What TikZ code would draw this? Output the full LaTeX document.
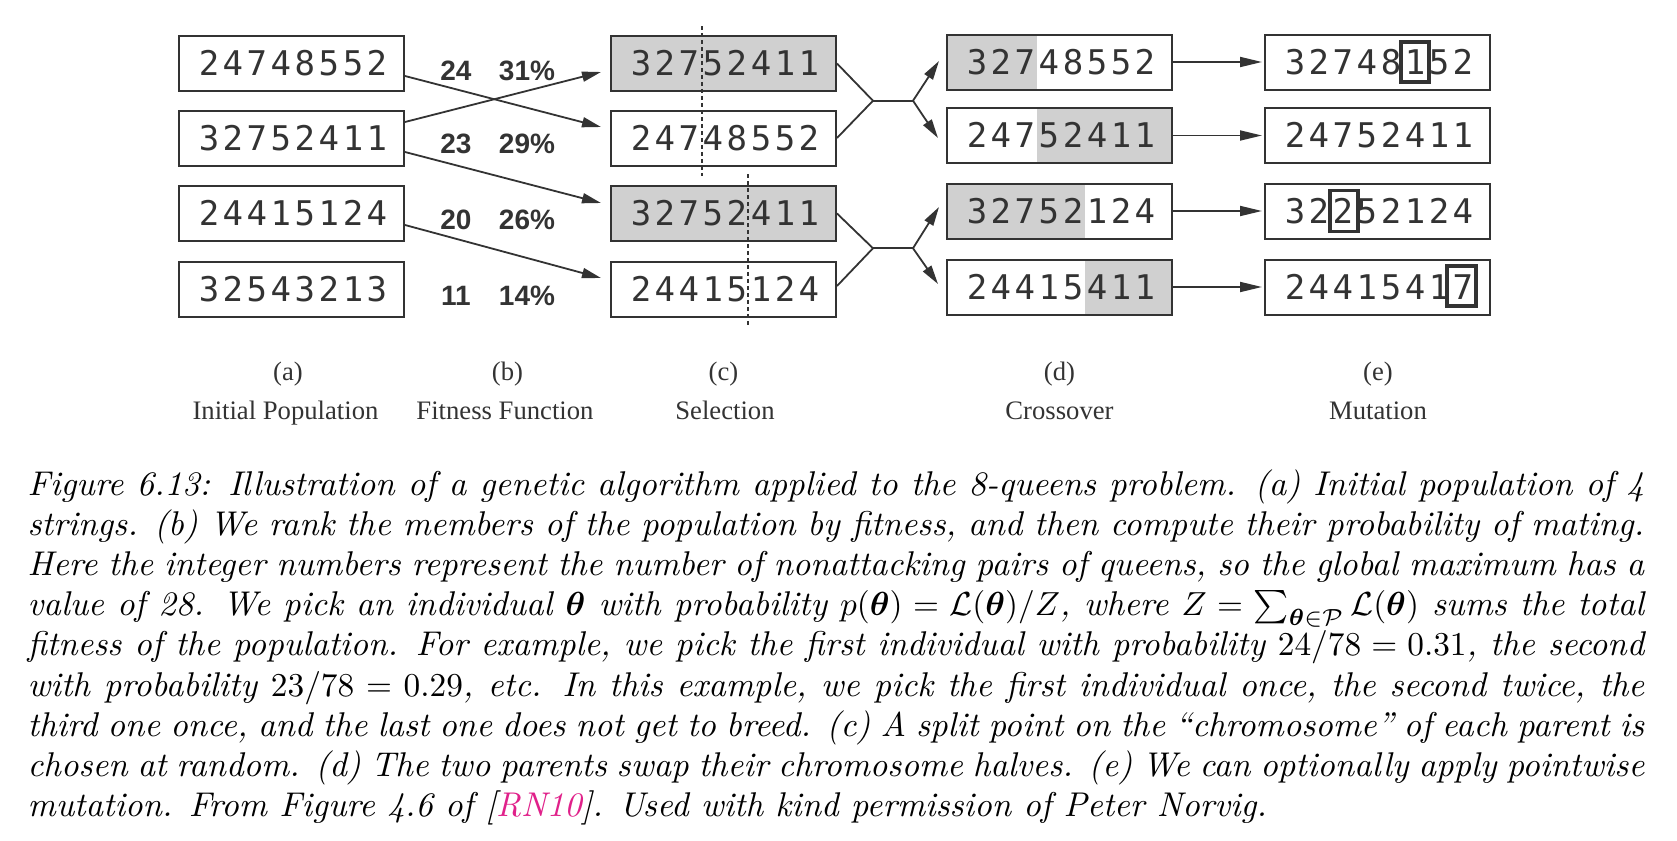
\documentclass[tikz,border=0pt]{standalone}
\usepackage{fontspec}
\usepackage{amsmath,bm}
\usetikzlibrary{arrows.meta,calc}
\newfontfamily\digfont{DejaVu Sans Mono}
\newfontfamily\fitfont{Liberation Sans}
\newfontfamily\labfont{Liberation Serif}
\definecolor{ink}{HTML}{333333}
\definecolor{shadegray}{HTML}{D0D0D0}
\definecolor{citepink}{HTML}{E0218A}
\makeatletter
\newcommand\digs[1]{\hspace*{0.9pt}\digs@aux#1\relax}
\def\digs@aux#1{\ifx#1\relax\else\makebox[7.2pt]{#1}\expandafter\digs@aux\fi}
\makeatother
\begin{document}
\begin{tikzpicture}[x=0.3pt,y=-0.3pt,
  gbox/.style={draw=ink, line width=0.6pt, minimum width=67.5pt, minimum height=16.5pt,
    inner sep=0pt, text=ink, font=\digfont\fontsize{10.2}{12}\selectfont},
  lshade/.style={path picture={\fill[shadegray] (path picture bounding box.north west) rectangle ([xshift=#1]path picture bounding box.south west);}},
  rshade/.style={path picture={\fill[shadegray] ([xshift=#1]path picture bounding box.north west) rectangle (path picture bounding box.south east);}},
  conn/.style={draw=ink, line width=0.54pt},
  arr/.style={conn, -{Triangle[length=5.7pt,width=3pt]}},
  longarr/.style={conn, -{Triangle[length=6.6pt,width=3pt]}},
  splitline/.style={draw=ink, line width=0.54pt, dash pattern=on 1.2pt off 0.9pt},
  mut/.style={draw=ink, line width=1.05pt},
  fitlab/.style={font=\fitfont\bfseries\fontsize{8.4}{10}\selectfont, text=ink, inner sep=0pt, anchor=base},
  steplab/.style={font=\labfont\fontsize{8}{10}\selectfont, text=ink, inner sep=0pt, anchor=base},
  capline/.style={font=\fontsize{10.3}{12.06}\selectfont\itshape, inner sep=0pt, anchor=base west}
]
\useasboundingbox (0,0) rectangle (1677,841);

% (a) initial population
\node[gbox] (a1) at (291.5,63.5) {\digs{24748552}};
\node[gbox] (a2) at (291.5,138) {\digs{32752411}};
\node[gbox] (a3) at (291.5,213.5) {\digs{24415124}};
\node[gbox] (a4) at (291.5,289) {\digs{32543213}};

% (b) fitness
\node[fitlab] (f1) at (456,80) {24};
\node[fitlab] (p1) at (527,80) {31\%};
\node[fitlab] (f2) at (456,154) {23};
\node[fitlab] (p2) at (527,154) {29\%};
\node[fitlab] (f3) at (456,229) {20};
\node[fitlab] (p3) at (527,229) {26\%};
\node[fitlab] (f4) at (456,305) {11};
\node[fitlab] (p4) at (527,305) {14\%};

% (c) selection
\node[gbox, fill=shadegray] (c1) at (723.5,63.5) {\digs{32752411}};
\node[gbox] (c2) at (723.5,138) {\digs{24748552}};
\node[gbox, fill=shadegray] (c3) at (723.5,213.5) {\digs{32752411}};
\node[gbox] (c4) at (723.5,289) {\digs{24415124}};

\draw[splitline] ($(c1.north)+(-21.5,-9)$) -- ($(c2.south)+(-21.5,9.5)$);
\draw[splitline] ($(c3.north)+(24.5,-11)$) -- ($(c4.south)+(24.5,8.5)$);

% (d) crossover
\node[gbox, lshade=27pt] (d1) at (1059.5,62) {\digs{32748552}};
\node[gbox, rshade=27pt] (d2) at (1059.5,135.5) {\digs{24752411}};
\node[gbox, lshade=41.4pt] (d3) at (1059.5,211) {\digs{32752124}};
\node[gbox, rshade=41.4pt] (d4) at (1059.5,287) {\digs{24415411}};

% (e) mutation
\node[gbox] (e1) at (1377.5,62) {\digs{32748152}};
\node[gbox] (e2) at (1377.5,135.5) {\digs{24752411}};
\node[gbox] (e3) at (1377.5,211) {\digs{32252124}};
\node[gbox] (e4) at (1377.5,287) {\digs{24415417}};

\draw[mut] ($(e1.center)+(23.5,-20)$) rectangle +(28,40);
\draw[mut] ($(e3.center)+(-47.5,-20.5)$) rectangle +(28,41);
\draw[mut] ($(e4.center)+(69.5,-21)$) rectangle +(29,40);

% arrows a -> c
\draw[arr] ($(a1.east)+(0,12.5)$) -- ($(c2.west)+(-9,-11)$);
\draw[arr] ($(a2.east)+(0,-16)$) -- ($(c1.west)+(-9,8.5)$);
\draw[arr] ($(a2.east)+(0,14)$) -- ($(c3.west)+(-9,-10.5)$);
\draw[arr] ($(a3.east)+(0,11.5)$) -- ($(c4.west)+(-9,-11)$);

% forks c -> d
\coordinate (j1) at ($(c1.east)!0.5!(c2.east)+(36,0)$);
\coordinate (k1) at ($(j1)+(40,0)$);
\draw[conn] (c1.east) -- (j1) -- (c2.east);
\draw[conn] (j1) -- (k1);
\draw[arr] (k1) -- ($(d1.west)+(-7,-1)$);
\draw[arr] (k1) -- ($(d2.west)+(-8,2.5)$);

\coordinate (j2) at ($(c3.east)!0.5!(c4.east)+(36,-3)$);
\coordinate (k2) at ($(j2)+(40,0)$);
\draw[conn] (c3.east) -- (j2) -- ($(c4.east)+(0,-3)$);
\draw[conn] (j2) -- (k2);
\draw[arr] (k2) -- ($(d3.west)+(-7,-4)$);
\draw[arr] (k2) -- ($(d4.west)+(-8,-3)$);

% arrows d -> e
\draw[longarr] (d1.east) -- ($(e1.west)+(-2,0)$);
\draw[longarr] (d2.east) -- ($(e2.west)+(-2,0)$);
\draw[longarr] (d3.east) -- ($(e3.west)+(-2,0)$);
\draw[longarr] (d4.east) -- ($(e4.west)+(-2,0)$);

% step labels
\node[steplab] (la) at (288,380) {(a)};
\node[steplab] (lla) at (285.5,419) {Initial Population};
\node[steplab] (lb) at (507.5,380) {(b)};
\node[steplab] (llb) at (505,419) {Fitness Function};
\node[steplab] (lc) at (723.5,380) {(c)};
\node[steplab] (llc) at (725,419) {Selection};
\node[steplab] (ld) at (1059.5,380) {(d)};
\node[steplab] (lld) at (1059.5,419) {Crossover};
\node[steplab] (le) at (1378,380) {(e)};
\node[steplab] (lle) at (1378,419) {Mutation};

% caption
\node[capline] (cl1) at (27,495) {\makebox[485pt][s]{Figure 6.13: Illustration of a genetic algorithm applied to the 8-queens problem. (a) Initial population of 4}};
\node[capline] (cl2) at (27,535.2) {\makebox[485pt][s]{strings. (b) We rank the members of the population by fitness, and then compute their probability of mating.}};
\node[capline] (cl3) at (27,575.4) {\makebox[485pt][s]{Here the integer numbers represent the number of nonattacking pairs of queens, so the global maximum has a}};
\node[capline] (cl4) at (27,615.6) {\makebox[485pt][s]{value of 28. We pick an individual $\bm{\theta}$ with probability $p(\bm{\theta})=\mathcal{L}(\bm{\theta})/Z$, where $Z=\sum_{\bm{\theta}\in\mathcal{P}}\mathcal{L}(\bm{\theta})$ sums the total}};
\node[capline] (cl5) at (27,655.8) {\makebox[485pt][s]{fitness of the population. For example, we pick the first individual with probability $24/78=0.31$, the second}};
\node[capline] (cl6) at (27,696) {\makebox[485pt][s]{with probability $23/78=0.29$, etc. In this example, we pick the first individual once, the second twice, the}};
\node[capline] (cl7) at (27,736.2) {\makebox[485pt][s]{third one once, and the last one does not get to breed. (c) A split point on the ``chromosome'' of each parent is}};
\node[capline] (cl8) at (27,776.4) {\makebox[485pt][s]{chosen at random. (d) The two parents swap their chromosome halves. (e) We can optionally apply pointwise}};
\node[capline] (cl9) at (27,816.6) {mutation. From Figure 4.6 of [\textcolor{citepink}{RN10}]. Used with kind permission of Peter Norvig.};
\end{tikzpicture}
\end{document}
